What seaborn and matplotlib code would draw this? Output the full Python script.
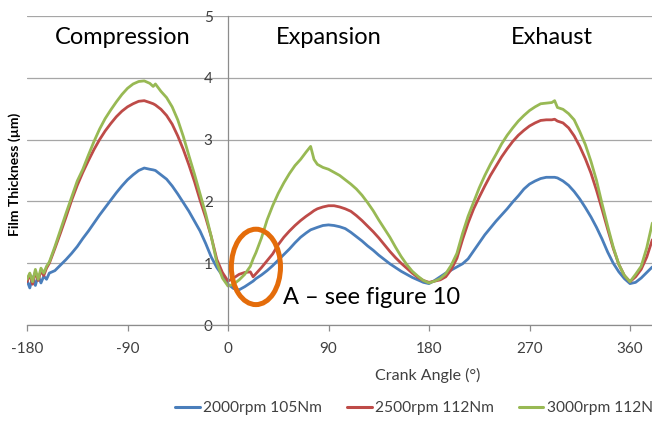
import numpy as np
import pandas as pd
import matplotlib
matplotlib.use("Agg")
import matplotlib.pyplot as plt
from matplotlib.patches import Ellipse
import seaborn as sns

# ---------------- data ----------------
angle = [
    -180, -177.5, -175, -172.5, -170, -167.5, -165, -162.5, -160, -155,
    -150, -145, -140, -135, -130, -125, -120, -115, -110, -105,
    -100, -95, -90, -85, -80, -75, -70, -67, -65, -60,
    -55, -50, -45, -40, -35, -30, -25, -20, -15, -10,
    -5, 0, 5, 10, 15, 20, 22.5, 25, 30, 35,
    40, 45, 50, 55, 60, 65, 70, 74, 77, 80,
    85, 90, 95, 100, 105, 110, 115, 120, 125, 130,
    135, 140, 145, 150, 155, 160, 165, 170, 175, 180,
    185, 190, 195, 200, 205, 210, 215, 220, 225, 230,
    235, 240, 245, 250, 255, 260, 265, 270, 275, 280,
    285, 290, 292.5, 295, 300, 305, 310, 315, 320, 325,
    330, 335, 340, 345, 350, 355, 360, 365, 370, 375,
    380,
]

film_2000rpm = [
    0.72, 0.60, 0.78, 0.64, 0.80, 0.68, 0.79, 0.74, 0.84, 0.88,
    0.97, 1.06, 1.16, 1.27, 1.40, 1.52, 1.65, 1.78, 1.90, 2.02,
    2.14, 2.25, 2.35, 2.43, 2.50, 2.54, 2.52, 2.51, 2.50, 2.43,
    2.36, 2.25, 2.12, 1.98, 1.84, 1.68, 1.52, 1.32, 1.10, 0.93,
    0.80, 0.66, 0.59, 0.57, 0.62, 0.68, 0.71, 0.75, 0.81, 0.88,
    0.96, 1.05, 1.14, 1.23, 1.33, 1.42, 1.49, 1.54, 1.56, 1.58,
    1.61, 1.62, 1.61, 1.59, 1.56, 1.50, 1.43, 1.36, 1.28, 1.21,
    1.13, 1.06, 0.99, 0.93, 0.87, 0.82, 0.77, 0.73, 0.69, 0.67,
    0.72, 0.78, 0.84, 0.89, 0.94, 0.99, 1.07, 1.20, 1.33, 1.46,
    1.57, 1.68, 1.78, 1.88, 1.99, 2.09, 2.20, 2.28, 2.33, 2.37,
    2.39, 2.39, 2.39, 2.38, 2.33, 2.26, 2.16, 2.04, 1.90, 1.75,
    1.58, 1.39, 1.18, 1.00, 0.86, 0.75, 0.67, 0.69, 0.76, 0.85,
    0.94,
]

film_2500rpm = [
    0.70, 0.82, 0.66, 0.86, 0.72, 0.88, 0.80, 0.92, 1.00, 1.24,
    1.49, 1.75, 2.02, 2.26, 2.47, 2.66, 2.84, 3.00, 3.14, 3.26,
    3.37, 3.46, 3.53, 3.58, 3.62, 3.63, 3.60, 3.58, 3.56, 3.49,
    3.39, 3.25, 3.06, 2.84, 2.59, 2.32, 2.02, 1.74, 1.43, 1.06,
    0.85, 0.71, 0.76, 0.82, 0.85, 0.86, 0.78, 0.83, 0.93, 1.04,
    1.15, 1.30, 1.42, 1.52, 1.61, 1.69, 1.76, 1.81, 1.85, 1.88,
    1.91, 1.93, 1.93, 1.91, 1.88, 1.84, 1.77, 1.69, 1.60, 1.51,
    1.41, 1.30, 1.19, 1.09, 1.00, 0.92, 0.84, 0.77, 0.72, 0.69,
    0.71, 0.73, 0.78, 0.90, 1.08, 1.38, 1.65, 1.88, 2.07, 2.25,
    2.42, 2.57, 2.72, 2.85, 2.97, 3.07, 3.15, 3.22, 3.27, 3.31,
    3.32, 3.32, 3.33, 3.30, 3.27, 3.19, 3.06, 2.89, 2.69, 2.46,
    2.18, 1.87, 1.55, 1.24, 0.98, 0.80, 0.70, 0.78, 0.90, 1.10,
    1.38,
]

film_3000rpm = [
    0.74, 0.84, 0.70, 0.90, 0.74, 0.92, 0.84, 0.95, 1.02, 1.27,
    1.54, 1.81, 2.07, 2.33, 2.52, 2.75, 2.97, 3.17, 3.34, 3.48,
    3.61, 3.73, 3.83, 3.90, 3.94, 3.95, 3.91, 3.86, 3.90, 3.78,
    3.68, 3.53, 3.32, 3.05, 2.74, 2.44, 2.12, 1.80, 1.43, 1.01,
    0.76, 0.63, 0.66, 0.73, 0.82, 0.95, 1.07, 1.17, 1.41, 1.70,
    1.93, 2.13, 2.30, 2.45, 2.58, 2.68, 2.80, 2.89, 2.68, 2.60,
    2.55, 2.52, 2.47, 2.42, 2.35, 2.28, 2.20, 2.10, 1.98, 1.85,
    1.70, 1.56, 1.42, 1.26, 1.11, 0.98, 0.87, 0.79, 0.72, 0.68,
    0.71, 0.75, 0.83, 0.97, 1.16, 1.48, 1.76, 1.99, 2.22, 2.42,
    2.60, 2.76, 2.93, 3.07, 3.19, 3.30, 3.39, 3.47, 3.53, 3.58,
    3.59, 3.60, 3.63, 3.52, 3.49, 3.42, 3.32, 3.13, 2.92, 2.65,
    2.34, 1.96, 1.60, 1.26, 0.98, 0.80, 0.70, 0.82, 0.95, 1.25,
    1.65,
]

series_labels = ["2000rpm 105Nm", "2500rpm 112Nm", "3000rpm 112Nm"]
series_colors = ["#4A7EBB", "#BE4B48", "#98B954"]
x_ticks = [-180, -90, 0, 90, 180, 270, 360]
y_ticks = [0, 1, 2, 3, 4, 5]
stroke_labels = ["Compression", "Expansion", "Exhaust"]
stroke_label_x = [-94, 90, 290]
note_text = "A \u2013 see figure 10"
x_label = "Crank Angle (\u00b0)"
y_label = "Film Thickness (\u00b5m)"

# ---------------- styling ----------------
sns.set_theme(style="white")
plt.rcParams["font.family"] = ["Lato", "DejaVu Sans"]
plt.rcParams["axes.unicode_minus"] = False

TEXT = "#404040"
AXIS = "#8c8c8c"
GRID = "#a6a6a6"

df = pd.concat(
    [
        pd.DataFrame({"angle": angle, "film": vals, "series": lab})
        for vals, lab in zip([film_2000rpm, film_2500rpm, film_3000rpm], series_labels)
    ],
    ignore_index=True,
)

W, H = 652, 423
fig = plt.figure(figsize=(W / 100, H / 100), dpi=100)
ax = fig.add_axes([27 / W, 1 - 325 / H, (W - 27) / W, 309 / H])

sns.lineplot(
    data=df, x="angle", y="film", hue="series", hue_order=series_labels,
    palette=series_colors, estimator=None, sort=False, linewidth=2.0, ax=ax,
)

ax.set_xlim(-180, 379.7)
ax.set_ylim(0, 5)
ax.set_xticks(x_ticks)
ax.set_yticks(y_ticks)
ax.set_xlabel("")
ax.set_ylabel("")

ax.yaxis.grid(True, color=GRID, linewidth=0.9)
ax.xaxis.grid(False)
ax.set_axisbelow(True)

for s in ["top", "right"]:
    ax.spines[s].set_visible(False)
ax.spines["left"].set_position(("data", 0))
ax.spines["left"].set_color(AXIS)
ax.spines["bottom"].set_color(AXIS)
ax.spines["left"].set_linewidth(0.9)
ax.spines["bottom"].set_linewidth(0.9)

ax.tick_params(axis="x", bottom=True, direction="out", length=4, width=0.9,
               color=AXIS, labelsize=11, labelcolor=TEXT, pad=8)
ax.tick_params(axis="y", left=False, length=0, labelsize=11, labelcolor=TEXT, pad=11)

# stroke labels
for lab, xv in zip(stroke_labels, stroke_label_x):
    ax.text(xv, 4.66, lab, ha="center", va="center", fontsize=17, color="black")

# highlight ellipse and note
ax.add_patch(Ellipse((25, 0.94), 44, 1.22, fill=False, edgecolor="#E46C0A",
                     linewidth=3.6, zorder=5))
fig.text(283 / W, 1 - 297 / H, note_text, ha="left", va="center", fontsize=17, color="black")

fig.text(15 / W, 1 - 174 / H, y_label, rotation=90, ha="center", va="center",
         fontsize=10, fontweight="bold", color="black")
fig.text(428 / W, 1 - 375 / H, x_label, ha="center", va="center", fontsize=11.5, color=TEXT)

sns.move_legend(
    ax, loc="center left", bbox_to_anchor=(175 / W, 1 - 408 / H),
    bbox_transform=fig.transFigure, ncol=3, frameon=False, title=None,
    fontsize=11.2, handlelength=1.6, handletextpad=0.2, columnspacing=1.6,
    borderpad=0, borderaxespad=0,
)
leg = ax.get_legend()
for t in leg.get_texts():
    t.set_color(TEXT)
for h in leg.get_lines():
    h.set_linewidth(2.2)

fig.savefig("out.png", dpi=100)
